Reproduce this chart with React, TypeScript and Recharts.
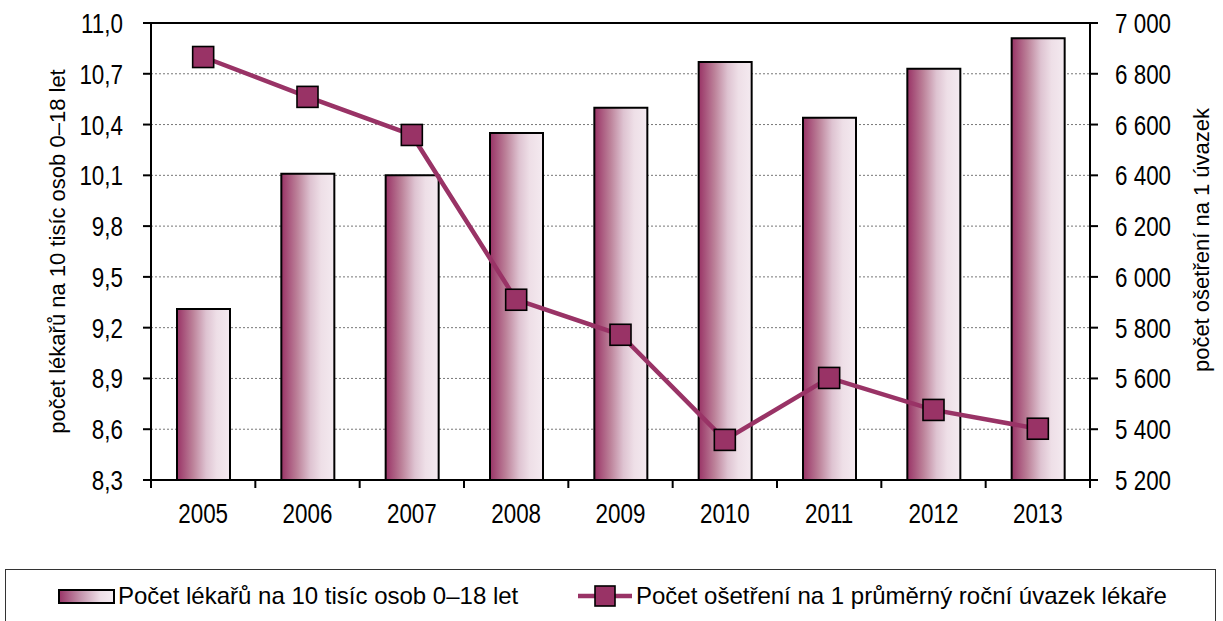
import React from 'react';
import { ComposedChart, Bar, Line, XAxis, YAxis, CartesianGrid, ReferenceLine } from 'recharts';

const years = ['2005', '2006', '2007', '2008', '2009', '2010', '2011', '2012', '2013'];
const doctors = [9.31, 10.11, 10.1, 10.35, 10.5, 10.77, 10.44, 10.73, 10.91];
const treatments = [6866, 6709, 6559, 5910, 5772, 5358, 5602, 5476, 5402];
const leftTicks = [8.3, 8.6, 8.9, 9.2, 9.5, 9.8, 10.1, 10.4, 10.7, 11.0];
const rightTicks = [5200, 5400, 5600, 5800, 6000, 6200, 6400, 6600, 6800, 7000];
const barName = 'Počet lékařů na 10 tisíc osob 0–18 let';
const lineName = 'Počet ošetření na 1 průměrný roční úvazek lékaře';
const leftLabel = 'počet lékařů na 10 tisíc osob 0–18 let';
const rightLabel = 'počet ošetření na 1 úvazek';

const data = years.map((y, i) => ({ year: y, doctors: doctors[i], treatments: treatments[i] }));

const FONT = "'Liberation Sans', Arial, sans-serif";
const COLOR = '#993366';
const W = 1223;
const H = 621;
const PLOT_L = 151;
const PLOT_R = 1090;
const HALF_BAND = (PLOT_R - PLOT_L) / years.length / 2;
const TICK_FS = 28;
const SQ = 0.8;

const fmtLeft = (v: number) => v.toFixed(1).replace('.', ',');
const fmtRight = (v: number) => {
  const s = String(Math.round(v));
  return s.length > 3 ? s.slice(0, s.length - 3) + ' ' + s.slice(s.length - 3) : s;
};

const XTick = (props: any) => {
  const { x, y, payload, index } = props;
  const last = index === years.length - 1;
  return (
    <g>
      <line x1={x - HALF_BAND} x2={x - HALF_BAND} y1={y - 8} y2={y} stroke="#000" strokeWidth={2} />
      {last && <line x1={x + HALF_BAND} x2={x + HALF_BAND} y1={y - 8} y2={y} stroke="#000" strokeWidth={2} />}
      <text transform={`translate(${x}, ${y + 35}) scale(${SQ}, 1)`} textAnchor="middle" fontSize={TICK_FS} fontFamily={FONT} fill="#000">
        {payload.value}
      </text>
    </g>
  );
};

const LeftTick = (props: any) => {
  const { x, y, payload } = props;
  return (
    <text transform={`translate(${x}, ${y + 10}) scale(${SQ}, 1)`} textAnchor="end" fontSize={TICK_FS} fontFamily={FONT} fill="#000">
      {fmtLeft(payload.value)}
    </text>
  );
};

const RightTick = (props: any) => {
  const { x, y, payload } = props;
  return (
    <text transform={`translate(${x}, ${y + 10}) scale(${SQ}, 1)`} textAnchor="start" fontSize={TICK_FS} fontFamily={FONT} fill="#000">
      {fmtRight(payload.value)}
    </text>
  );
};

const SquareDot = (props: any) => {
  const { cx, cy, index } = props;
  if (cx == null || cy == null) return null;
  return <rect key={index} x={cx - 10.5} y={cy - 10.5} width={21} height={21} fill={COLOR} stroke="#000" strokeWidth={1.6} />;
};

export default function App() {
  return (
    <div style={{ position: 'absolute', left: 0, top: 0, width: W, height: H, fontFamily: FONT, background: '#fff', overflow: 'hidden' }}>
      <ComposedChart width={W} height={H} data={data} margin={{ top: 23, right: 0, left: 0, bottom: 101 }}>
        <defs>
          <linearGradient id="barGrad" x1="0" y1="0" x2="1" y2="0">
            <stop offset="0%" stopColor="#993366" />
            <stop offset="30%" stopColor="#BC8199" />
            <stop offset="55%" stopColor="#DEC3D1" />
            <stop offset="75%" stopColor="#EEDFE7" />
            <stop offset="100%" stopColor="#F4EAF0" />
          </linearGradient>
        </defs>
        <CartesianGrid yAxisId="left" vertical={false} stroke="#777" strokeDasharray="2 2" strokeWidth={1} />
        <XAxis
          dataKey="year"
          height={40}
          tickLine={false}
          axisLine={{ stroke: '#000', strokeWidth: 2 }}
          tick={<XTick />}
          interval={0}
        />
        <YAxis
          yAxisId="left"
          width={PLOT_L}
          domain={[8.3, 11.0]}
          ticks={leftTicks}
          allowDataOverflow
          axisLine={{ stroke: '#000', strokeWidth: 2 }}
          tickLine={{ stroke: '#000', strokeWidth: 2 }}
          tickSize={8}
          tickMargin={20}
          tick={<LeftTick />}
          label={(p: any) => {
            const vb = p.viewBox;
            const cy = vb.y + vb.height / 2;
            return (
              <text x={57} y={cy} transform={`rotate(-90, 57, ${cy})`} textAnchor="middle" dominantBaseline="central" fontSize={22} fontFamily={FONT} fill="#000">
                {leftLabel}
              </text>
            );
          }}
        />
        <YAxis
          yAxisId="right"
          orientation="right"
          width={W - PLOT_R}
          domain={[5200, 7000]}
          ticks={rightTicks}
          allowDataOverflow
          axisLine={{ stroke: '#000', strokeWidth: 2 }}
          tickLine={{ stroke: '#000', strokeWidth: 2 }}
          tickSize={8}
          tickMargin={17}
          tick={<RightTick />}
          label={() => {
            const cy = 240;
            return (
              <text x={1201} y={cy} transform={`rotate(-90, 1201, ${cy})`} textAnchor="middle" dominantBaseline="central" fontSize={22} fontFamily={FONT} fill="#000">
                {rightLabel}
              </text>
            );
          }}
        />
        <ReferenceLine yAxisId="left" y={11.0} stroke="#000" strokeWidth={2} />
        <Bar
          yAxisId="left"
          dataKey="doctors"
          name={barName}
          barSize={53}
          fill="url(#barGrad)"
          stroke="#000"
          strokeWidth={2}
          isAnimationActive={false}
        />
        <Line
          yAxisId="right"
          dataKey="treatments"
          name={lineName}
          type="linear"
          stroke={COLOR}
          strokeWidth={4.5}
          dot={<SquareDot />}
          activeDot={false}
          isAnimationActive={false}
        />
      </ComposedChart>
      <div
        style={{
          position: 'absolute',
          left: 5,
          top: 569,
          width: 1211,
          height: 60,
          border: '1px solid #333',
          boxSizing: 'border-box',
        }}
      >
        <div style={{ position: 'absolute', left: 52, top: 12, height: 28, display: 'flex', alignItems: 'center' }}>
          <svg width={57} height={15} style={{ display: 'block' }}>
            <defs>
              <linearGradient id="legGrad" x1="0" y1="0" x2="1" y2="0">
                <stop offset="0%" stopColor="#993366" />
                <stop offset="40%" stopColor="#C596AE" />
                <stop offset="75%" stopColor="#EEDFE7" />
                <stop offset="100%" stopColor="#F6EEF3" />
              </linearGradient>
            </defs>
            <rect x={1} y={1} width={55} height={13} fill="url(#legGrad)" stroke="#000" strokeWidth={2} />
          </svg>
          <span style={{ fontSize: 24, marginLeft: 3, color: '#000', lineHeight: '28px' }}>{barName}</span>
        </div>
        <div style={{ position: 'absolute', left: 572, top: 12, height: 28, display: 'flex', alignItems: 'center' }}>
          <svg width={54} height={24} style={{ display: 'block' }}>
            <line x1={0} x2={54} y1={12} y2={12} stroke={COLOR} strokeWidth={4.5} />
            <rect x={17} y={2} width={20} height={20} fill={COLOR} stroke="#000" strokeWidth={1.6} />
          </svg>
          <span style={{ fontSize: 24, marginLeft: 4, color: '#000', lineHeight: '28px' }}>{lineName}</span>
        </div>
      </div>
    </div>
  );
}
